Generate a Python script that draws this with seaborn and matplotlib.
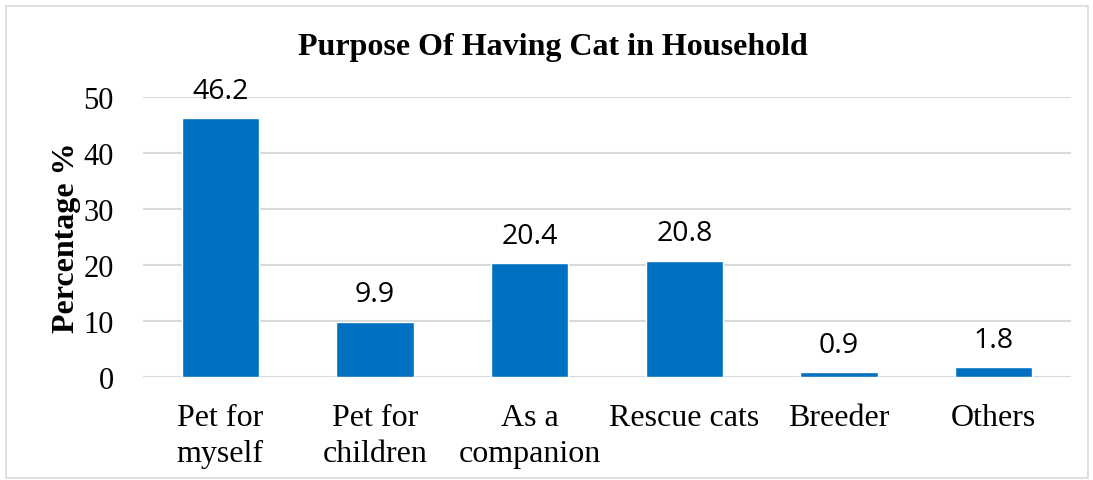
import matplotlib
matplotlib.use("Agg")
import matplotlib.pyplot as plt
import seaborn as sns
import pandas as pd
from matplotlib.patches import Rectangle

categories = ["Pet for\nmyself", "Pet for\nchildren", "As a\ncompanion", "Rescue cats", "Breeder", "Others"]
values = [46.2, 9.9, 20.4, 20.8, 0.9, 1.8]
value_labels = ["46.2", "9.9", "20.4", "20.8", "0.9", "1.8"]
yticks = [0, 10, 20, 30, 40, 50]

df = pd.DataFrame({"category": categories, "value": values})

sns.set_theme(style="white")
plt.rcParams["font.family"] = ["Liberation Serif", "DejaVu Serif"]
plt.rcParams["text.color"] = "black"
plt.rcParams["axes.labelcolor"] = "black"
plt.rcParams["xtick.color"] = "black"
plt.rcParams["ytick.color"] = "black"

fig = plt.figure(figsize=(10.93, 4.81), dpi=100)
fig.patches.append(Rectangle((6 / 1093, 2 / 481), 1082 / 1093, 472 / 481, transform=fig.transFigure,
                             fill=False, edgecolor="#d9d9d9", linewidth=1.2))
ax = fig.add_axes([143 / 1093, 1 - 378 / 481, (1071 - 143) / 1093, (378 - 98) / 481])

sns.barplot(data=df, x="category", y="value", color="#0070C0", width=0.5, saturation=1, ax=ax, zorder=3)

ax.set_ylim(0, 50)
ax.set_xlim(-0.5, len(categories) - 0.5)
ax.set_yticks(yticks)
ax.set_yticklabels([str(t) for t in yticks])
ax.grid(axis="y", color="#d9d9d9", linewidth=1.5, zorder=0)
ax.set_axisbelow(True)
for s in ax.spines.values():
    s.set_visible(False)
ax.tick_params(axis="both", length=0)
ax.tick_params(axis="y", labelsize=22, pad=21)
ax.tick_params(axis="x", labelsize=23, pad=19)
for lbl in ax.get_xticklabels():
    lbl.set_linespacing(1.3)

for i, (v, t) in enumerate(zip(values, value_labels)):
    ax.annotate(t, (i, v), xytext=(0, 9.5), textcoords="offset points", ha="center", va="bottom",
                fontsize=20.5, family=["Open Sans", "DejaVu Sans"])

ax.set_xlabel("")
ax.set_ylabel("Percentage %", fontsize=23, fontweight="bold", labelpad=2)
fig.text(553 / 1093, 1 - 47 / 481, "Purpose Of Having Cat in Household", ha="center", va="center",
         fontsize=23, fontweight="bold")

fig.savefig("out.png", dpi=100, facecolor="white")
